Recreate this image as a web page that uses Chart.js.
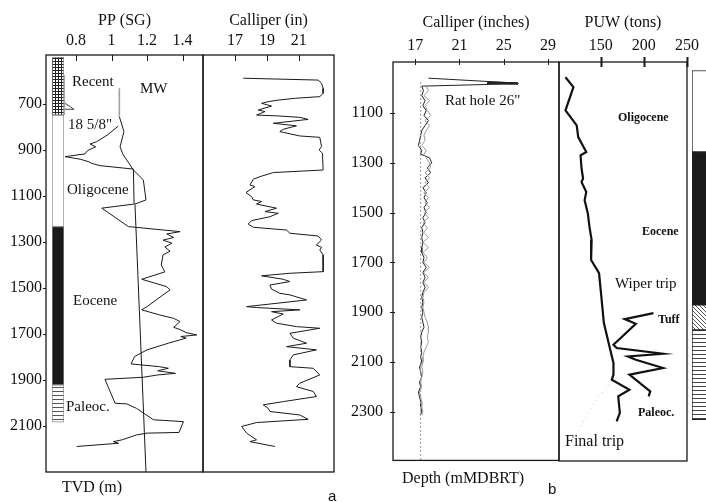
<!DOCTYPE html>
<html>
<head>
<meta charset="utf-8">
<script src="https://cdn.jsdelivr.net/npm/chart.js@4.4.1/dist/chart.umd.min.js"></script>
<style>
  html, body { margin: 0; padding: 0; background: #fff; }
  #page { position: relative; width: 706px; height: 502px; overflow: hidden; background: #fff; }
  #page canvas { position: absolute; }
  .lbl { position: absolute; font-family: 'Liberation Serif', 'Times New Roman', serif; color: #111;
         white-space: nowrap; line-height: 1; transform: translateY(-50%); font-size: 15px; }
  .big { font-size: 16px; }
  .bold { font-weight: bold; font-size: 12px; }
  .tag { font-family: 'Liberation Sans', Arial, sans-serif; font-size: 15px; }
</style>
</head>
<body>
<div id="page">
  <canvas id="ppChart" width="220" height="490" style="left:0;top:0"></canvas>
  <canvas id="calAChart" width="160" height="490" style="left:190px;top:0"></canvas>
  <canvas id="colAChart" width="12" height="417" style="left:52px;top:55px"></canvas>
  <canvas id="calBChart" width="240" height="480" style="left:330px;top:0"></canvas>
  <canvas id="puwChart" width="161" height="480" style="left:545px;top:0"></canvas>
  <canvas id="colBChart" width="20" height="399" style="left:692px;top:62px"></canvas>

  <div class="lbl" style="left:72px;top:81px">Recent</div>
  <div class="lbl" style="left:140px;top:88px">MW</div>
  <div class="lbl" style="left:68px;top:124px">18 5/8"</div>
  <div class="lbl" style="left:67px;top:189px">Oligocene</div>
  <div class="lbl" style="left:73px;top:300px">Eocene</div>
  <div class="lbl" style="left:66px;top:406px">Paleoc.</div>
  <div class="lbl big" style="left:62px;top:487px">TVD (m)</div>
  <div class="lbl tag" style="left:328px;top:495px">a</div>

  <div class="lbl" style="left:445px;top:100px">Rat hole 26"</div>
  <div class="lbl big" style="left:402px;top:478px">Depth (mMDBRT)</div>
  <div class="lbl tag" style="left:548px;top:488px">b</div>
  <div class="lbl bold" style="left:618px;top:117px">Oligocene</div>
  <div class="lbl bold" style="left:642px;top:231px">Eocene</div>
  <div class="lbl" style="left:615px;top:283px">Wiper trip</div>
  <div class="lbl bold" style="left:658px;top:319px">Tuff</div>
  <div class="lbl bold" style="left:638px;top:412px">Paleoc.</div>
  <div class="lbl big" style="left:565px;top:441px">Final trip</div>
</div>

<script>
// ---- panel a: pore pressure / mud weight (SG) against TVD (m)
const depthATicks = [700, 900, 1100, 1300, 1500, 1700, 1900, 2100];
const ppTicks = [0.8, 1, 1.2, 1.4];
const ppDepth = [796, 835, 864, 874, 886, 903, 917, 929, 940, 952, 958, 968, 983, 1135, 1153, 1233, 1255, 1265, 1280, 1292,
  1305, 1322, 1340, 1356, 1400, 1430, 1462, 1494, 1508, 1530, 1581, 1595, 1617, 1632, 1646, 1671, 1682, 1694, 1704, 1711,
  1718, 1740, 1769, 1798, 1830, 1834, 1842, 1849, 1860, 1871, 1878, 1888, 1897, 2001, 2004, 2023, 2073, 2081, 2128, 2131,
  2139, 2160, 2168, 2175, 2189];
const ppSG = [1.038, 0.976, 0.916, 0.879, 0.911, 0.864, 0.851, 0.738, 0.823, 0.875, 0.888, 0.935, 1.123, 1.127, 0.945, 1.095, 1.386, 1.311, 1.35, 1.29,
  1.34, 1.30, 1.33, 1.29, 1.28, 1.30, 1.17, 1.31, 1.33, 1.29, 1.20, 1.17, 1.27, 1.35, 1.386, 1.35, 1.39, 1.42, 1.48, 1.39,
  1.42, 1.32, 1.20, 1.13, 1.11, 1.16, 1.27, 1.32, 1.26, 1.36, 1.26, 1.18, 0.963, 1.02, 1.086, 1.14, 1.236, 1.405, 1.38, 1.20,
  1.14, 1.06, 1.01, 1.04, 0.804];
const mwTopDepth = [632, 755];
const mwTopSG = [1.044, 1.044];
const mwDepth = [755, 820, 886, 917, 987, 1030, 1117, 1135, 2300];
const mwSG = [1.044, 1.07, 1.048, 1.063, 1.123, 1.179, 1.194, 1.132, 1.194];
const casingDepth = [574, 748];
const casingSG = [0.734, 0.734];
const shoeDepth = [697, 723, 723];
const shoeSG = [0.738, 0.789, 0.738];

// ---- panel a: calliper (in)
const calATicks = [17, 19, 21];
const calADepth = [588, 596, 610, 632, 654, 668, 675, 683, 690, 697, 709, 726, 733, 748, 752, 758, 767, 784, 795, 810,
  820, 839, 845, 885, 900, 914, 987, 998, 1016, 1027, 1052, 1059, 1085, 1103, 1117, 1124, 1135, 1153, 1168, 1175,
  1190, 1207, 1222, 1236, 1248, 1262, 1274, 1291, 1313, 1323, 1335, 1356, 1429, 1436, 1447, 1462, 1472, 1487, 1505, 1523,
  1530, 1552, 1581, 1585, 1595, 1603, 1613, 1639, 1653, 1668, 1675, 1697, 1718, 1740, 1755, 1769, 1791, 1813, 1842, 1849,
  1878, 1914, 1929, 1950, 1972, 1994, 2008, 2023, 2037, 2052, 2071, 2085, 2102, 2131, 2160, 2168, 2189];
const calAIn = [17.52, 22.21, 22.42, 22.52, 22.52, 22.31, 20.8, 19.71, 19.08, 18.67, 19.29, 18.46, 18.88, 18.35, 19.71, 21.06, 21.58, 19.40, 20.85, 20.02,
  19.81, 21.06, 22.31, 22.42, 22.27, 22.48, 22.52, 19.40, 18.56, 18.15, 17.94, 18.25, 17.69, 18.04, 18.15, 18.67, 18.35, 19.6, 18.88, 19.71,
  19.19, 18.04, 17.83, 18.15, 20.23, 20.44, 22.21, 22.42, 22.1, 22.42, 22.31, 22.52, 22.52, 20.44, 18.67, 20.02, 20.44, 19.19, 19.29, 19.81,
  20.44, 21.48, 17.73, 18.35, 21.06, 19.29, 20.02, 19.29, 19.6, 20.85, 22.31, 20.44, 20.65, 21.48, 20.23, 22.1, 20.65, 20.44, 20.44, 21.9,
  22.31, 21.06, 20.85, 21.9, 22.1, 20.02, 18.77, 19.08, 19.19, 21.06, 21.58, 18.35, 17.42, 17.73, 18.35, 17.94, 19.5];

// ---- panel a: stratigraphic column (TVD m)
const colATop = [496, 748, 1233, 1921];
const colABase = [748, 1233, 1921, 2083];

// ---- panel b: calliper (inches) against depth (mMDBRT)
const depthBTicks = [1100, 1300, 1500, 1700, 1900, 2100, 2300];
const calBTicks = [17, 21, 25, 29];
const ratHoleDepth = [960, 980, 982, 992];
const ratHoleIn = [18.2, 26.3, 26.3, 17.6];
const calBDepth = [992, 1010, 1030, 1050, 1070, 1090, 1110, 1130, 1150, 1170, 1190, 1210, 1230, 1250, 1265,
  1280, 1300, 1320, 1340, 1360, 1380, 1400, 1420, 1440, 1460, 1480, 1500, 1520, 1540, 1560,
  1580, 1600, 1620, 1640, 1660, 1680, 1700, 1720, 1740, 1760, 1780, 1800, 1820, 1840, 1860,
  1880, 1900, 1920, 1940, 1960, 1980, 2000, 2020, 2040, 2060, 2080, 2100, 2120, 2140, 2160,
  2180, 2200, 2220, 2240, 2260, 2280, 2300, 2313];
const calBBlack = [17.6, 17.75, 17.6, 17.9, 17.7, 18.0, 17.8, 18.2, 17.9, 17.6, 17.5, 17.4, 17.3, 17.6, 17.5,
  18.3, 18.5, 18.1, 18.4, 17.9, 18.2, 17.7, 18.0, 17.8, 18.1, 17.8, 18.0, 17.7, 17.9, 17.6,
  17.7, 17.6, 17.7, 17.6, 17.6, 17.8, 17.7, 18.0, 17.7, 17.9, 17.7, 17.9, 17.7, 17.6, 17.7,
  17.6, 17.7, 17.6, 17.7, 17.8, 17.6, 17.5, 17.6, 17.5, 17.6, 17.5, 17.6, 17.4, 17.5, 17.6,
  17.4, 17.5, 17.3, 17.4, 17.5, 17.5, 17.6, 17.45];
const calBGray = [18.0, 18.2, 17.8, 18.3, 17.9, 18.1, 18.4, 17.9, 18.3, 18.0, 17.8, 17.9, 17.6, 18.0, 17.8,
  18.0, 18.3, 18.4, 17.9, 18.3, 17.9, 18.3, 17.8, 18.2, 17.9, 18.3, 17.8, 18.2, 17.7, 18.1,
  17.8, 18.2, 17.7, 18.2, 17.7, 18.1, 17.8, 18.3, 17.8, 18.2, 17.8, 18.2, 17.8, 17.7, 17.8,
  17.7, 17.8, 17.9, 18.1, 18.2, 18.2, 18.1, 18.2, 18.0, 17.8, 17.7, 17.7, 17.6, 17.7, 17.6,
  17.5, 17.6, 17.4, 17.5, 17.6, 17.6, 17.7, 17.6];
const bitDepth = [975, 2495];
const bitIn = [17.5, 17.5];

// ---- panel b: pick-up weight (tons)
const puwTicks = [150, 200, 250];
const puwDepth = [956, 996, 1089, 1149, 1196, 1256, 1269, 1322, 1362, 1376, 1416, 1449, 1502, 1556, 1609, 1689, 1742, 1809,
  1942, 2022, 2102, 2149, 2169, 2209, 2236, 2302, 2336];
const puwTons = [109.2, 118.4, 109.2, 122.2, 124.0, 133.3, 126.7, 127.8, 129.6, 127.8, 133.3, 131.4, 135.1, 137, 139.5, 138.9, 148.1, 150,
  153.7, 159.2, 164.8, 164.8, 162.9, 183.3, 170.3, 172.2, 168.5];
const wiperDepth = [1902, 1926, 1945, 2029, 2042, 2065, 2076, 2089, 2122, 2149, 2216, 2236];
const wiperTons = [211.1, 177.8, 190.7, 164.8, 168.5, 222.2, 181.4, 190.7, 222.2, 183.3, 207.4, 205.6];
const finalTripDepth = [2189, 2236, 2336, 2382];
const finalTripTons = [160, 148, 130, 124];

// ---- panel b: stratigraphic column (mMDBRT)
const colBTop = [929, 1256, 1869, 1969];
const colBBase = [1256, 1869, 1969, 2329];

Chart.defaults.font.family = "'Liberation Serif', 'Times New Roman', serif";
Chart.defaults.color = '#111';

function pts(depths, vals) {
  return depths.map((d, i) => ({ x: vals[i], y: d }));
}

function line(data, color, width, dash) {
  return { data, borderColor: color, borderWidth: width, borderDash: dash || [], showLine: true,
           pointRadius: 0, fill: false, tension: 0 };
}

// box round each track
const framePlugin = {
  id: 'frame',
  afterDraw(chart) {
    const { ctx, chartArea: a } = chart;
    ctx.save();
    ctx.strokeStyle = '#1a1a1a';
    ctx.lineWidth = 1.3;
    ctx.strokeRect(a.left, a.top, a.right - a.left, a.bottom - a.top);
    ctx.restore();
  }
};

// tick marks that may cut into the track
const tickMarkPlugin = {
  id: 'tickMarks',
  afterDraw(chart, args, opts) {
    const { ctx, chartArea: a } = chart;
    ctx.save();
    ctx.strokeStyle = '#1a1a1a';
    ctx.lineWidth = opts.width || 1;
    Object.entries(opts.marks || {}).forEach(([id, m]) => {
      const s = chart.scales[id];
      s.ticks.forEach(t => {
        const p = Math.round(s.getPixelForValue(t.value)) + 0.5;
        ctx.beginPath();
        if (s.isHorizontal()) { ctx.moveTo(p, a.top - m.out); ctx.lineTo(p, a.top + m.in); }
        else { ctx.moveTo(a.left - m.out, p); ctx.lineTo(a.left + m.in, p); }
        ctx.stroke();
      });
    });
    ctx.restore();
  }
};

function trackChart(id, cfg) {
  return new Chart(document.getElementById(id), {
    type: 'scatter',
    data: { datasets: cfg.datasets },
    options: {
      responsive: false,
      animation: false,
      devicePixelRatio: 1,
      layout: { padding: cfg.padding },
      plugins: {
        legend: { display: false },
        tooltip: { enabled: false },
        tickMarks: { marks: cfg.marks, width: cfg.tickWidth || 1 }
      },
      scales: {
        x: {
          type: 'linear', position: 'top', min: cfg.xMin, max: cfg.xMax,
          grid: { display: false, drawTicks: false },
          border: { display: false },
          afterBuildTicks: s => { s.ticks = cfg.xTicks.map(v => ({ value: v })); },
          afterFit: s => { s.height = cfg.top; },
          ticks: { autoSkip: false, maxRotation: 0, padding: cfg.xPad, font: { size: 16 }, callback: v => String(v) },
          title: { display: true, text: cfg.title, font: { size: 16 }, padding: { top: cfg.titlePad, bottom: 0 } }
        },
        y: {
          type: 'linear', reverse: true, min: cfg.yMin, max: cfg.yMax,
          display: !!cfg.yTicks,
          grid: { display: false, drawTicks: false },
          border: { display: false },
          afterBuildTicks: s => { if (cfg.yTicks) s.ticks = cfg.yTicks.map(v => ({ value: v })); },
          afterFit: s => { s.width = cfg.left || 0; },
          ticks: { autoSkip: false, padding: cfg.yPad || 4, font: { size: 16 }, callback: v => String(v) }
        }
      }
    },
    plugins: [framePlugin, tickMarkPlugin]
  });
}

function tile(w, h, draw) {
  const c = document.createElement('canvas');
  c.width = w; c.height = h;
  const g = c.getContext('2d');
  g.fillStyle = '#fff';
  g.fillRect(0, 0, w, h);
  draw(g);
  return c;
}

function columnChart(id, yMin, yMax, tops, bases, fills, edge) {
  return new Chart(document.getElementById(id), {
    type: 'bar',
    data: {
      labels: ['unit'],
      datasets: tops.map((t, i) => ({
        data: [[t, bases[i]]], backgroundColor: fills[i], borderColor: edge, borderWidth: 1,
        borderSkipped: false, grouped: false, barPercentage: 1, categoryPercentage: 1
      }))
    },
    options: {
      responsive: false, animation: false, devicePixelRatio: 1,
      layout: { padding: 0 },
      plugins: { legend: { display: false }, tooltip: { enabled: false } },
      scales: {
        x: { display: false },
        y: { display: false, reverse: true, min: yMin, max: yMax }
      }
    }
  });
}

// ===== panel a
trackChart('ppChart', {
  padding: { left: 0, top: 0, right: 17, bottom: 18 },
  top: 55, left: 46, xPad: 5, titlePad: 11, yPad: 4,
  xMin: 0.631, xMax: 1.515, xTicks: ppTicks, title: 'PP (SG)',
  yMin: 487, yMax: 2300, yTicks: depthATicks,
  marks: { x: { in: 6, out: 0 }, y: { in: 0, out: 3 } },
  datasets: [
    line(pts(casingDepth, casingSG), '#a8a8a8', 1.6),
    line(pts(shoeDepth, shoeSG), '#444', 1),
    line(pts(mwTopDepth, mwTopSG), '#a0a0a0', 1.6),
    line(pts(mwDepth, mwSG), '#1a1a1a', 1),
    line(pts(ppDepth, ppSG), '#1a1a1a', 1)
  ]
});

trackChart('calAChart', {
  padding: { left: 13, top: 0, right: 16, bottom: 18 },
  top: 55, xPad: 5, titlePad: 11,
  xMin: 15, xMax: 23.2, xTicks: calATicks, title: 'Calliper (in)',
  yMin: 487, yMax: 2300,
  marks: { x: { in: 6, out: 0 } },
  datasets: [ line(pts(calADepth, calAIn), '#1a1a1a', 1) ]
});

const colACtx = document.getElementById('colAChart').getContext('2d');
const gridFill = colACtx.createPattern(tile(3, 3, g => {
  g.fillStyle = '#222'; g.fillRect(0, 0, 3, 1); g.fillRect(0, 0, 1, 3);
}), 'repeat');
const stripeFillA = colACtx.createPattern(tile(4, 4, g => {
  g.fillStyle = '#555'; g.fillRect(0, 0, 4, 1);
}), 'repeat');
columnChart('colAChart', 487, 2300, colATop, colABase, [gridFill, '#ffffff', '#1a1a1a', stripeFillA], '#8a8a8a');

// ===== panel b
trackChart('calBChart', {
  padding: { left: 0, top: 0, right: 11, bottom: 19 },
  top: 62, left: 63, xPad: 7, titlePad: 13, yPad: 10,
  xMin: 15, xMax: 30, xTicks: calBTicks, title: 'Calliper (inches)',
  yMin: 895, yMax: 2495, yTicks: depthBTicks,
  marks: { x: { in: 3, out: 3 }, y: { in: 2, out: 3 } },
  datasets: [
    line(pts(bitDepth, bitIn), '#9a9a9a', 1, [2, 2]),
    line(pts(calBDepth, calBGray), '#9a9a9a', 1),
    line(pts(ratHoleDepth.concat(calBDepth), ratHoleIn.concat(calBBlack)), '#222', 1),
    line(pts([978, 981], [23.5, 26.3]), '#222', 2.5)
  ]
});

trackChart('puwChart', {
  padding: { left: 14, top: 0, right: 14, bottom: 19 },
  top: 62, xPad: 7, titlePad: 13,
  xMin: 101.7, xMax: 250, xTicks: puwTicks, title: 'PUW (tons)',
  yMin: 895, yMax: 2495,
  marks: { x: { in: 5, out: 5 } },
  tickWidth: 2,
  datasets: [
    line(pts(finalTripDepth, finalTripTons), '#c4c4c4', 1, [1, 4]),
    line(pts(puwDepth, puwTons), '#111', 2.2),
    line(pts(wiperDepth, wiperTons), '#111', 2.2)
  ]
});

const colBCtx = document.getElementById('colBChart').getContext('2d');
const tuffFill = colBCtx.createPattern(tile(4, 4, g => {
  g.strokeStyle = '#555'; g.lineWidth = 1;
  g.beginPath(); g.moveTo(0, 0); g.lineTo(4, 4); g.stroke();
}), 'repeat');
const stripeFillB = colBCtx.createPattern(tile(4, 4, g => {
  g.fillStyle = '#444'; g.fillRect(0, 0, 4, 1);
}), 'repeat');
columnChart('colBChart', 895, 2495, colBTop, colBBase, ['#ffffff', '#1a1a1a', tuffFill, stripeFillB], '#222');
</script>
</body>
</html>
